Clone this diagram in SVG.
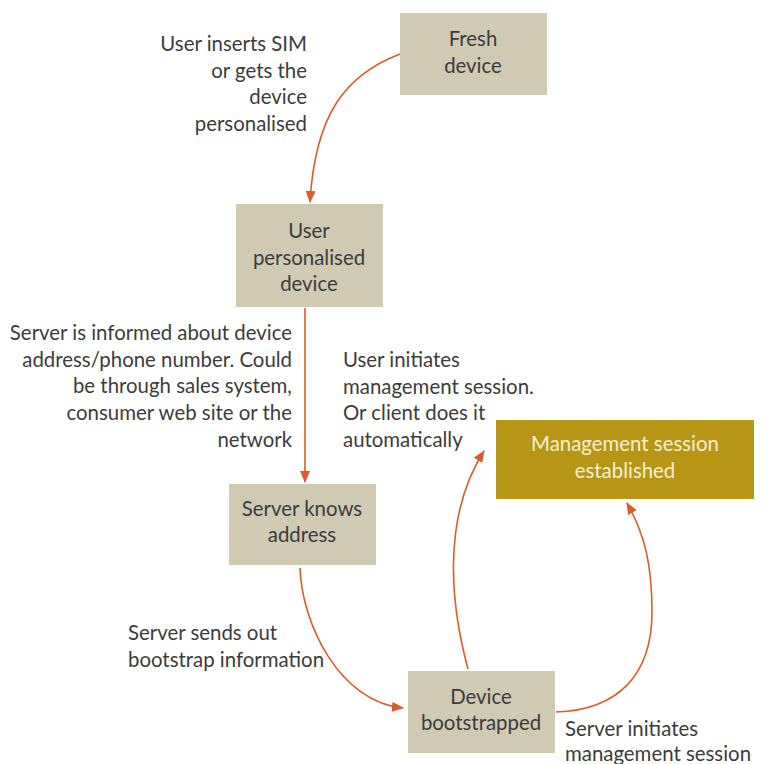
<svg xmlns="http://www.w3.org/2000/svg" width="771" height="764" viewBox="0 0 771 764">
  <style>
    text { font-family: Lato, "Open Sans", "Liberation Sans", sans-serif; font-size: 20.4px; fill: #3c3c3c; }
    .box { fill: #cfcab1; }
    .hl { fill: #b89615; }
    .hlt { fill: #f4efd8; }
    .c { text-anchor: middle; }
    .r { text-anchor: end; }
    .edge { fill: none; stroke: #e05a28; stroke-width: 1.6; }
  </style>
  <defs>
    <marker id="arr" viewBox="0 0 12 10" refX="11" refY="5" markerWidth="12" markerHeight="10" markerUnits="userSpaceOnUse" orient="auto">
      <path d="M0,0 L12,5 L0,10 Z" fill="#e05a28"/>
    </marker>
  </defs>
  <rect width="771" height="764" fill="#ffffff"/>

  <g id="connectors">
    <path class="edge" d="M400,54 C345,75 315,115 310,202" marker-end="url(#arr)"/>
    <path class="edge" d="M305,308 L305,482" marker-end="url(#arr)"/>
    <path class="edge" d="M300,568 C302,625 340,702 403,708" marker-end="url(#arr)"/>
    <path class="edge" d="M468,669 C452,610 440,520 484,451" marker-end="url(#arr)"/>
    <path class="edge" d="M556,712 C618,710 652,675 652,612 C652,565 645,535 627,503" marker-end="url(#arr)"/>
  </g>

  <g id="fresh-device">
    <rect class="box" x="400" y="13" width="147" height="82"/>
    <text class="c" x="473" y="46">Fresh</text>
    <text class="c" x="473" y="73">device</text>
  </g>

  <g id="user-personalised-device">
    <rect class="box" x="236" y="204" width="147" height="103"/>
    <text class="c" x="309" y="238">User</text>
    <text class="c" x="309" y="265">personalised</text>
    <text class="c" x="309" y="291">device</text>
  </g>

  <g id="server-knows-address">
    <rect class="box" x="229" y="484" width="147" height="81"/>
    <text class="c" x="302" y="516">Server knows</text>
    <text class="c" x="302" y="542">address</text>
  </g>

  <g id="device-bootstrapped">
    <rect class="box" x="408" y="671" width="147" height="82"/>
    <text class="c" x="481" y="704">Device</text>
    <text class="c" x="481" y="730">bootstrapped</text>
  </g>

  <g id="management-session-established">
    <rect class="hl" x="496" y="420" width="258" height="79"/>
    <text class="c hlt" x="625" y="451">Management session</text>
    <text class="c hlt" x="625" y="478">established</text>
  </g>

  <g id="labels">
    <text class="r" x="307" y="51">User inserts SIM</text>
    <text class="r" x="307" y="78">or gets the</text>
    <text class="r" x="307" y="104">device</text>
    <text class="r" x="307" y="131">personalised</text>

    <text class="r" x="292" y="340">Server is informed about device</text>
    <text class="r" x="292" y="367">address/phone number. Could</text>
    <text class="r" x="292" y="393">be through sales system,</text>
    <text class="r" x="292" y="420">consumer web site or the</text>
    <text class="r" x="292" y="447">network</text>

    <text x="343" y="367">User initiates</text>
    <text x="343" y="394">management session.</text>
    <text x="343" y="420">Or client does it</text>
    <text x="343" y="447">automatically</text>

    <text x="128" y="640">Server sends out</text>
    <text x="128" y="667">bootstrap information</text>

    <text x="565" y="736">Server initiates</text>
    <text x="565" y="761">management session</text>
  </g>
</svg>
